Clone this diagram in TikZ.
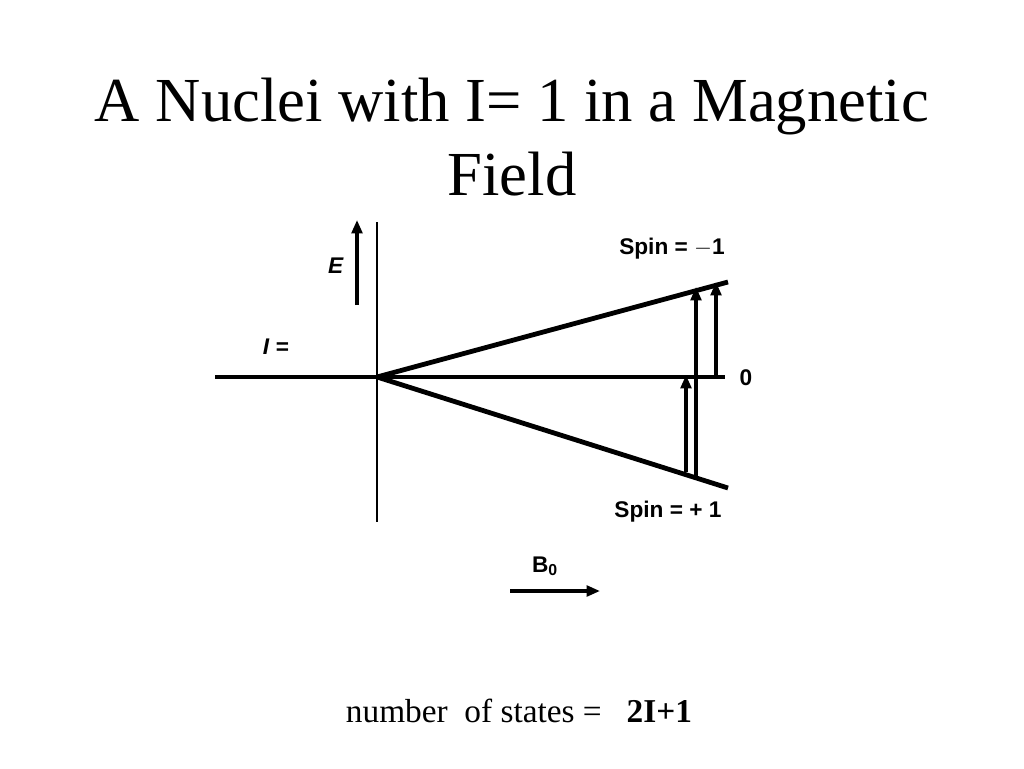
\documentclass[tikz,border=0pt]{standalone}
\usepackage{fontspec}
\setmainfont{Liberation Serif}
\newfontfamily\labelfont{Liberation Sans}
\usetikzlibrary{arrows.meta}
\tikzset{
  level/.style={line width=3.6pt},
  axis/.style={line width=1.8pt},
  trans/.style={line width=2.4pt,-{Triangle[length=10pt,width=8pt]}},
  lbl/.style={inner sep=0.75pt,font=\labelfont\bfseries\fontsize{17}{19}\selectfont}
}
\begin{document}
\begin{tikzpicture}[x=0.75pt,y=0.75pt,yscale=-1,xscale=1]
    \useasboundingbox (0,0) rectangle (1024,768);
    \fill[white] (0,0) rectangle (1024,768);
    % Title
    \node (title) at (512,137) [align=center,font=\fontsize{47}{56}\selectfont] {A Nuclei with I= 1 in a Magnetic\\Field};
    % Axes
    \coordinate (o) at (377,377);
    \coordinate (top) at (377,222);
    \coordinate (bot) at (377,522);
    \coordinate (left) at (215,377);
    \coordinate (zero) at (725,377);
    \coordinate (up) at (728,282);
    \coordinate (dn) at (728,488);
    \draw [axis] (top) -- (bot);
    \draw [level] (left) -- (zero);
    \draw [level] (o) -- (up);
    \draw [level] (o) -- (dn);
    % Energy and field arrows
    \coordinate (e1) at (357,305);
    \coordinate (e2) at (357,220);
    \draw [trans] (e1) -- (e2);
    \coordinate (b1) at (510,591);
    \coordinate (b2) at (600,591);
    \draw [trans] (b1) -- (b2);
    % Transitions
    \coordinate (t1a) at (696,476);
    \coordinate (t1b) at (696,287);
    \coordinate (t2a) at (716,377);
    \coordinate (t2b) at (716,282);
    \coordinate (t3a) at (686,472);
    \coordinate (t3b) at (686,375);
    \draw [trans] (t1a) -- (t1b);
    \draw [trans] (t2a) -- (t2b);
    \draw [trans] (t3a) -- (t3b);
    % Labels
    \node (elab) at (336,266) [lbl] {\textit{E}};
    \node (ilab) at (276,347) [lbl] {\textit{I} =};
    \node (sm) at (672,249) [lbl] {Spin = $-$1};
    \node (z) at (746,378) [lbl] {0};
    \node (sp) at (668,512) [lbl] {Spin = + 1};
    \node (blab) at (545,566) [lbl] {B\textsubscript{0}};
    \node (count) at (519,711) [font=\fontsize{25}{30}\selectfont] {number\ \ of states =\ \ \ \textbf{2I+1}};
\end{tikzpicture}
\end{document}
